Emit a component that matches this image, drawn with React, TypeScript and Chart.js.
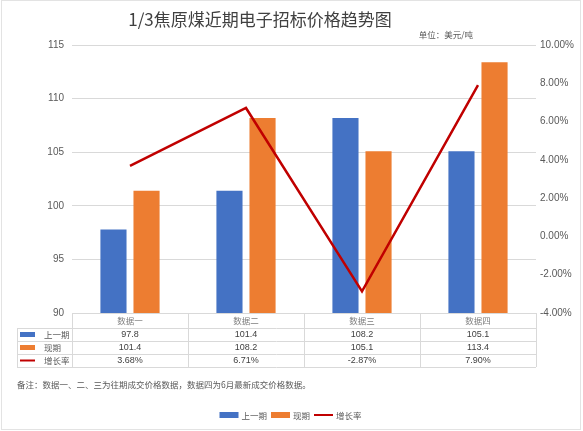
import React, { useEffect, useRef } from "react";
import { Chart, registerables } from "chart.js";

Chart.register(...registerables);

const titleText = "1/3焦原煤近期电子招标价格趋势图";
const unitText = "单位：美元/吨";
const noteText = "备注：数据一、二、三为往期成交价格数据，数据四为6月最新成交价格数据。";
const categories = ["数据一", "数据二", "数据三", "数据四"];
const seriesNames = ["上一期", "现期", "增长率"];
const previousValues = [97.8, 101.4, 108.2, 105.1];
const currentValues = [101.4, 108.2, 105.1, 113.4];
const growthRates = [3.68, 6.71, -2.87, 7.9];
const leftTicks = { min: 90, max: 115, step: 5 };
const rightTicks = { min: -4, max: 10, step: 2 };

const BLUE = "#4472C4";
const ORANGE = "#ED7D31";
const RED = "#C00000";
const GRID = "#D9D9D9";
const CJK = '"Noto Sans CJK SC", "Noto Sans", sans-serif';
const NUM = '"Liberation Sans", Arial, sans-serif';

const tablePlugin = {
  id: "tablePlugin",
  afterDraw(chart: any) {
    const ctx = chart.ctx as CanvasRenderingContext2D;
    const area = chart.chartArea;
    const W = chart.width;
    const H = chart.height;
    ctx.save();

    // frame
    ctx.strokeStyle = "#E3E3E3";
    ctx.lineWidth = 1;
    ctx.strokeRect(1.5, 0.5, W - 4, H - 2);

    // title
    ctx.fillStyle = "#404040";
    ctx.font = `17px ${CJK}`;
    ctx.textAlign = "center";
    ctx.textBaseline = "middle";
    ctx.fillText(titleText, 260, 20);

    // unit
    ctx.fillStyle = "#595959";
    ctx.font = `8.5px ${CJK}`;
    ctx.textAlign = "right";
    ctx.fillText(unitText, 473, 35);

    // table
    const left = area.left;
    const right = area.right;
    const colW = (right - left) / categories.length;
    const tableLeft = 17;
    const rowsY = [area.bottom, area.bottom + 15, area.bottom + 28, area.bottom + 41, area.bottom + 54];
    ctx.strokeStyle = GRID;
    ctx.lineWidth = 1;
    ctx.beginPath();
    ctx.moveTo(left, rowsY[0] + 0.5);
    ctx.lineTo(right, rowsY[0] + 0.5);
    for (let r = 1; r < rowsY.length; r++) {
      ctx.moveTo(tableLeft, Math.round(rowsY[r]) + 0.5);
      ctx.lineTo(right, Math.round(rowsY[r]) + 0.5);
    }
    ctx.moveTo(tableLeft + 0.5, rowsY[1]);
    ctx.lineTo(tableLeft + 0.5, rowsY[4]);
    for (let c = 0; c <= categories.length; c++) {
      const x = Math.round(left + c * colW) + 0.5;
      ctx.moveTo(x, rowsY[0]);
      ctx.lineTo(x, rowsY[4]);
    }
    ctx.stroke();

    ctx.textAlign = "center";
    ctx.textBaseline = "middle";
    ctx.fillStyle = "#7F7F7F";
    ctx.font = `8.5px ${CJK}`;
    categories.forEach((c, i) => {
      ctx.fillText(c, left + colW * (i + 0.5), (rowsY[0] + rowsY[1]) / 2);
    });

    const rowData = [
      previousValues.map((v) => v.toFixed(1)),
      currentValues.map((v) => v.toFixed(1)),
      growthRates.map((v) => v.toFixed(2) + "%"),
    ];
    ctx.fillStyle = "#404040";
    ctx.font = `9px ${NUM}`;
    rowData.forEach((row, r) => {
      const y = (rowsY[r + 1] + rowsY[r + 2]) / 2 + 0.5;
      row.forEach((t, i) => ctx.fillText(t, left + colW * (i + 0.5), y));
    });

    // row labels
    ctx.textAlign = "left";
    ctx.font = `8.5px ${CJK}`;
    const colors = [BLUE, ORANGE, RED];
    seriesNames.forEach((name, r) => {
      const y = (rowsY[r + 1] + rowsY[r + 2]) / 2;
      if (r < 2) {
        ctx.fillStyle = colors[r];
        ctx.fillRect(20, y - 2.5, 15, 5);
      } else {
        ctx.strokeStyle = colors[r];
        ctx.lineWidth = 2;
        ctx.beginPath();
        ctx.moveTo(20, y);
        ctx.lineTo(35, y);
        ctx.stroke();
      }
      ctx.fillStyle = "#595959";
      ctx.fillText(name, 44, y + 0.5);
    });

    // note
    ctx.fillStyle = "#595959";
    ctx.font = `8.5px ${CJK}`;
    ctx.fillText(noteText, 17, 385);

    // legend
    const boxW = 19;
    const gapBox = 3;
    const gapItem = 4;
    const widths = seriesNames.map((n) => boxW + gapBox + ctx.measureText(n).width);
    const total = widths.reduce((a, b) => a + b, 0) + gapItem * (seriesNames.length - 1);
    let x = 290.5 - total / 2;
    const ly = 415;
    seriesNames.forEach((n, i) => {
      if (i < 2) {
        ctx.fillStyle = colors[i];
        ctx.fillRect(x, ly - 3, boxW, 6);
      } else {
        ctx.strokeStyle = colors[i];
        ctx.lineWidth = 2;
        ctx.beginPath();
        ctx.moveTo(x, ly);
        ctx.lineTo(x + boxW, ly);
        ctx.stroke();
      }
      ctx.fillStyle = "#595959";
      ctx.fillText(n, x + boxW + gapBox, ly + 0.5);
      x += widths[i] + gapItem;
    });

    ctx.restore();
  },
};

export default function App() {
  const ref = useRef<HTMLCanvasElement | null>(null);
  useEffect(() => {
    if (!ref.current) return;
    const chart = new Chart(ref.current, {
      type: "bar",
      data: {
        labels: categories,
        datasets: [
          {
            type: "line",
            label: seriesNames[2],
            data: growthRates,
            yAxisID: "y1",
            borderColor: RED,
            backgroundColor: RED,
            borderWidth: 2.5,
            pointRadius: 0,
            tension: 0,
            order: 0,
          } as any,
          {
            type: "bar",
            label: seriesNames[0],
            data: previousValues,
            yAxisID: "y",
            backgroundColor: BLUE,
            categoryPercentage: 0.57,
            barPercentage: 0.79,
            order: 1,
          },
          {
            type: "bar",
            label: seriesNames[1],
            data: currentValues,
            yAxisID: "y",
            backgroundColor: ORANGE,
            categoryPercentage: 0.57,
            barPercentage: 0.79,
            order: 2,
          },
        ],
      },
      options: {
        responsive: false,
        animation: false,
        layout: { padding: { left: 0, right: 0, top: 45, bottom: 118 } },
        plugins: {
          legend: { display: false },
          title: { display: false },
          tooltip: { enabled: false },
        },
        scales: {
          x: { display: false },
          y: {
            position: "left",
            min: leftTicks.min,
            max: leftTicks.max,
            ticks: {
              stepSize: leftTicks.step,
              padding: 8,
              color: "#595959",
              font: { family: NUM, size: 10 },
            },
            grid: { color: GRID, drawTicks: false },
            border: { display: false },
            afterFit(scale: any) {
              scale.width = 72;
            },
          },
          y1: {
            position: "right",
            min: rightTicks.min,
            max: rightTicks.max,
            ticks: {
              stepSize: rightTicks.step,
              padding: 4,
              color: "#595959",
              font: { family: NUM, size: 10 },
              callback: (v: any) => Number(v).toFixed(2) + "%",
            },
            grid: { display: false, drawTicks: false },
            border: { display: false },
            afterFit(scale: any) {
              scale.width = 47;
            },
          },
        },
      },
      plugins: [tablePlugin],
    });
    return () => chart.destroy();
  }, []);
  return (
    <div style={{ position: "fixed", left: 0, top: 0, width: 583, height: 431, background: "#fff" }}>
      <canvas ref={ref} width={583} height={431} />
    </div>
  );
}
